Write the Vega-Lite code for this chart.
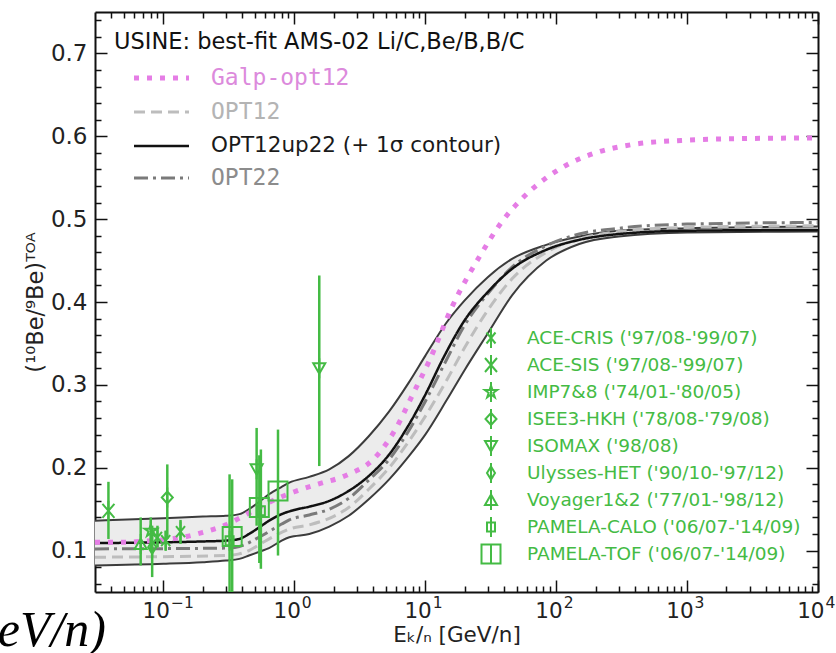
{
  "$schema": "https://vega.github.io/schema/vega-lite/v6.json",
  "width": 723,
  "height": 580,
  "autosize": "none",
  "padding": {"left": 95, "top": 12, "right": 18, "bottom": 61},
  "background": "white",
  "config": {"view": {"stroke": null}, "font": "DejaVu Sans"},
  "title": {"text": "eV/n)", "orient": "bottom", "anchor": "start", "align": "right", "frame": "group", "font": "Liberation Serif", "fontStyle": "italic", "fontWeight": "normal", "fontSize": 50, "color": "#000", "dx": 11, "offset": 0, "baseline": "alphabetic"},
  "datasets": {
    "band": [
      {"E": 0.03, "lo": 0.082, "hi": 0.136},
      {"E": 0.1, "lo": 0.084, "hi": 0.139},
      {"E": 0.2, "lo": 0.086, "hi": 0.141},
      {"E": 0.3, "lo": 0.088, "hi": 0.142},
      {"E": 0.38, "lo": 0.090, "hi": 0.144},
      {"E": 0.45, "lo": 0.094, "hi": 0.150},
      {"E": 0.55, "lo": 0.099, "hi": 0.160},
      {"E": 0.64, "lo": 0.103, "hi": 0.168},
      {"E": 0.8, "lo": 0.112, "hi": 0.177},
      {"E": 0.915, "lo": 0.116, "hi": 0.182},
      {"E": 1.3, "lo": 0.120, "hi": 0.189},
      {"E": 1.85, "lo": 0.129, "hi": 0.198},
      {"E": 2.6, "lo": 0.142, "hi": 0.214},
      {"E": 3.7, "lo": 0.162, "hi": 0.238},
      {"E": 5.3, "lo": 0.186, "hi": 0.268},
      {"E": 7.5, "lo": 0.214, "hi": 0.303},
      {"E": 10, "lo": 0.240, "hi": 0.335},
      {"E": 14.5, "lo": 0.281, "hi": 0.375},
      {"E": 20, "lo": 0.318, "hi": 0.402},
      {"E": 30, "lo": 0.362, "hi": 0.430},
      {"E": 46, "lo": 0.408, "hi": 0.452},
      {"E": 84, "lo": 0.450, "hi": 0.469},
      {"E": 150, "lo": 0.470, "hi": 0.479},
      {"E": 300, "lo": 0.479, "hi": 0.486},
      {"E": 1000, "lo": 0.484, "hi": 0.489},
      {"E": 10000, "lo": 0.485, "hi": 0.491}
    ],
    "curves": [
      {"series": "Galp-opt12", "E": 0.03, "v": 0.110},
      {"series": "Galp-opt12", "E": 0.05, "v": 0.110},
      {"series": "Galp-opt12", "E": 0.08, "v": 0.112},
      {"series": "Galp-opt12", "E": 0.1, "v": 0.113},
      {"series": "Galp-opt12", "E": 0.15, "v": 0.117},
      {"series": "Galp-opt12", "E": 0.2, "v": 0.122},
      {"series": "Galp-opt12", "E": 0.3, "v": 0.131},
      {"series": "Galp-opt12", "E": 0.4, "v": 0.141},
      {"series": "Galp-opt12", "E": 0.6, "v": 0.156},
      {"series": "Galp-opt12", "E": 0.8, "v": 0.165},
      {"series": "Galp-opt12", "E": 1.0, "v": 0.171},
      {"series": "Galp-opt12", "E": 1.5, "v": 0.180},
      {"series": "Galp-opt12", "E": 2.5, "v": 0.191},
      {"series": "Galp-opt12", "E": 4, "v": 0.210},
      {"series": "Galp-opt12", "E": 6, "v": 0.248},
      {"series": "Galp-opt12", "E": 8, "v": 0.288},
      {"series": "Galp-opt12", "E": 10.8, "v": 0.330},
      {"series": "Galp-opt12", "E": 16, "v": 0.394},
      {"series": "Galp-opt12", "E": 26, "v": 0.455},
      {"series": "Galp-opt12", "E": 39, "v": 0.498},
      {"series": "Galp-opt12", "E": 55, "v": 0.525},
      {"series": "Galp-opt12", "E": 81, "v": 0.548},
      {"series": "Galp-opt12", "E": 126, "v": 0.567},
      {"series": "Galp-opt12", "E": 200, "v": 0.580},
      {"series": "Galp-opt12", "E": 380, "v": 0.590},
      {"series": "Galp-opt12", "E": 900, "v": 0.595},
      {"series": "Galp-opt12", "E": 2200, "v": 0.597},
      {"series": "Galp-opt12", "E": 10000, "v": 0.598},
      {"series": "OPT12", "E": 0.03, "v": 0.092},
      {"series": "OPT12", "E": 0.3, "v": 0.094},
      {"series": "OPT12", "E": 0.38, "v": 0.096},
      {"series": "OPT12", "E": 0.45, "v": 0.100},
      {"series": "OPT12", "E": 0.55, "v": 0.108},
      {"series": "OPT12", "E": 0.8, "v": 0.122},
      {"series": "OPT12", "E": 0.915, "v": 0.126},
      {"series": "OPT12", "E": 1.3, "v": 0.131},
      {"series": "OPT12", "E": 1.85, "v": 0.139},
      {"series": "OPT12", "E": 2.6, "v": 0.152},
      {"series": "OPT12", "E": 3.7, "v": 0.174},
      {"series": "OPT12", "E": 5.3, "v": 0.200},
      {"series": "OPT12", "E": 7.5, "v": 0.232},
      {"series": "OPT12", "E": 10, "v": 0.262},
      {"series": "OPT12", "E": 14.5, "v": 0.305},
      {"series": "OPT12", "E": 20, "v": 0.345},
      {"series": "OPT12", "E": 30, "v": 0.390},
      {"series": "OPT12", "E": 46, "v": 0.428},
      {"series": "OPT12", "E": 84, "v": 0.460},
      {"series": "OPT12", "E": 150, "v": 0.476},
      {"series": "OPT12", "E": 300, "v": 0.485},
      {"series": "OPT12", "E": 1000, "v": 0.490},
      {"series": "OPT12", "E": 10000, "v": 0.492},
      {"series": "OPT12up22 (+ 1σ contour)", "E": 0.03, "v": 0.109},
      {"series": "OPT12up22 (+ 1σ contour)", "E": 0.1, "v": 0.110},
      {"series": "OPT12up22 (+ 1σ contour)", "E": 0.2, "v": 0.111},
      {"series": "OPT12up22 (+ 1σ contour)", "E": 0.3, "v": 0.112},
      {"series": "OPT12up22 (+ 1σ contour)", "E": 0.38, "v": 0.114},
      {"series": "OPT12up22 (+ 1σ contour)", "E": 0.45, "v": 0.120},
      {"series": "OPT12up22 (+ 1σ contour)", "E": 0.55, "v": 0.129},
      {"series": "OPT12up22 (+ 1σ contour)", "E": 0.64, "v": 0.136},
      {"series": "OPT12up22 (+ 1σ contour)", "E": 0.8, "v": 0.144},
      {"series": "OPT12up22 (+ 1σ contour)", "E": 1.0, "v": 0.149},
      {"series": "OPT12up22 (+ 1σ contour)", "E": 1.3, "v": 0.153},
      {"series": "OPT12up22 (+ 1σ contour)", "E": 1.85, "v": 0.160},
      {"series": "OPT12up22 (+ 1σ contour)", "E": 2.6, "v": 0.172},
      {"series": "OPT12up22 (+ 1σ contour)", "E": 3.7, "v": 0.190},
      {"series": "OPT12up22 (+ 1σ contour)", "E": 5.3, "v": 0.216},
      {"series": "OPT12up22 (+ 1σ contour)", "E": 7.5, "v": 0.252},
      {"series": "OPT12up22 (+ 1σ contour)", "E": 10, "v": 0.288},
      {"series": "OPT12up22 (+ 1σ contour)", "E": 14, "v": 0.335},
      {"series": "OPT12up22 (+ 1σ contour)", "E": 20, "v": 0.378},
      {"series": "OPT12up22 (+ 1σ contour)", "E": 30, "v": 0.412},
      {"series": "OPT12up22 (+ 1σ contour)", "E": 46, "v": 0.440},
      {"series": "OPT12up22 (+ 1σ contour)", "E": 84, "v": 0.463},
      {"series": "OPT12up22 (+ 1σ contour)", "E": 150, "v": 0.475},
      {"series": "OPT12up22 (+ 1σ contour)", "E": 300, "v": 0.482},
      {"series": "OPT12up22 (+ 1σ contour)", "E": 1000, "v": 0.486},
      {"series": "OPT12up22 (+ 1σ contour)", "E": 10000, "v": 0.487},
      {"series": "OPT22", "E": 0.03, "v": 0.102},
      {"series": "OPT22", "E": 0.3, "v": 0.103},
      {"series": "OPT22", "E": 0.38, "v": 0.105},
      {"series": "OPT22", "E": 0.55, "v": 0.117},
      {"series": "OPT22", "E": 0.8, "v": 0.132},
      {"series": "OPT22", "E": 0.915, "v": 0.137},
      {"series": "OPT22", "E": 1.3, "v": 0.143},
      {"series": "OPT22", "E": 1.85, "v": 0.150},
      {"series": "OPT22", "E": 2.6, "v": 0.163},
      {"series": "OPT22", "E": 3.7, "v": 0.185},
      {"series": "OPT22", "E": 5.3, "v": 0.210},
      {"series": "OPT22", "E": 7.5, "v": 0.245},
      {"series": "OPT22", "E": 10, "v": 0.280},
      {"series": "OPT22", "E": 14.5, "v": 0.330},
      {"series": "OPT22", "E": 20, "v": 0.372},
      {"series": "OPT22", "E": 30, "v": 0.410},
      {"series": "OPT22", "E": 46, "v": 0.442},
      {"series": "OPT22", "E": 84, "v": 0.468},
      {"series": "OPT22", "E": 150, "v": 0.482},
      {"series": "OPT22", "E": 300, "v": 0.489},
      {"series": "OPT22", "E": 1000, "v": 0.494},
      {"series": "OPT22", "E": 10000, "v": 0.496}
    ],
    "points": [
      {"exp": "ACE-SIS ('97/08-'99/07)", "E": 0.038, "v": 0.148, "lo": 0.114, "hi": 0.183},
      {"exp": "Voyager1&2 ('77/01-'98/12)", "E": 0.067, "v": 0.108, "lo": 0.082, "hi": 0.140},
      {"exp": "Ulysses-HET ('90/10-'97/12)", "E": 0.082, "v": 0.104, "lo": 0.068, "hi": 0.130},
      {"exp": "IMP7&8 ('74/01-'80/05)", "E": 0.08, "v": 0.124, "lo": 0.100, "hi": 0.140},
      {"exp": "ACE-CRIS ('97/08-'99/07)", "E": 0.09, "v": 0.116, "lo": 0.104, "hi": 0.130},
      {"exp": "ACE-CRIS ('97/08-'99/07)", "E": 0.104, "v": 0.112, "lo": 0.100, "hi": 0.124},
      {"exp": "ACE-CRIS ('97/08-'99/07)", "E": 0.135, "v": 0.123, "lo": 0.108, "hi": 0.137},
      {"exp": "ISEE3-HKH ('78/08-'79/08)", "E": 0.107, "v": 0.164, "lo": 0.114, "hi": 0.204},
      {"exp": "PAMELA-CALO ('06/07-'14/09)", "E": 0.32, "v": 0.112, "lo": 0.03, "hi": 0.192},
      {"exp": "PAMELA-TOF ('06/07-'14/09)", "E": 0.335, "v": 0.117, "lo": 0.03, "hi": 0.186},
      {"exp": "ISOMAX ('98/08)", "E": 0.515, "v": 0.198, "lo": 0.13, "hi": 0.248},
      {"exp": "PAMELA-CALO ('06/07-'14/09)", "E": 0.555, "v": 0.148, "lo": 0.078, "hi": 0.222},
      {"exp": "PAMELA-TOF ('06/07-'14/09)", "E": 0.54, "v": 0.152, "lo": 0.085, "hi": 0.215},
      {"exp": "PAMELA-TOF ('06/07-'14/09)", "E": 0.75, "v": 0.172, "lo": 0.094, "hi": 0.246},
      {"exp": "ISOMAX ('98/08)", "E": 1.55, "v": 0.320, "lo": 0.202, "hi": 0.432}
    ]
  },
  "layer": [
    {
      "data": {"name": "band"},
      "mark": {"type": "area", "color": "#ececec", "opacity": 1},
      "encoding": {
        "x": {"field": "E", "type": "quantitative",
          "scale": {"type": "log", "domain": [0.03, 10000], "nice": false},
          "axis": {"orient": "bottom", "values": [0.1, 1, 10, 100, 1000, 10000],
            "labelExpr": "'10'", "labelAlign": "right", "labelOffset": 6, "labelBaseline": "alphabetic",
            "tickSize": -12, "tickWidth": 1.5, "tickColor": "#111", "domainColor": "#111", "domainWidth": 2, "grid": false,
            "labelFont": "DejaVu Sans", "labelFontSize": 21.5, "labelColor": "#222", "labelPadding": 37,
            "labelOverlap": false, "labelFlush": false, "labelBound": false,
            "title": "Eₖ/ₙ [GeV/n]", "titleFont": "DejaVu Sans", "titleFontSize": 21.5, "titleFontWeight": "normal", "titleColor": "#222", "titlePadding": 3}},
        "y": {"field": "lo", "type": "quantitative",
          "scale": {"domain": [0.05, 0.75], "nice": false, "zero": false},
          "axis": {"orient": "left", "values": [0.1, 0.2, 0.3, 0.4, 0.5, 0.6, 0.7],
            "format": ".1f",
            "tickSize": -12, "tickWidth": 1.5, "tickColor": "#111", "domainColor": "#111", "domainWidth": 2, "grid": false,
            "labelFont": "DejaVu Sans", "labelFontSize": 23, "labelColor": "#222", "labelPadding": 20,
            "labelOverlap": false, "labelBound": false, "labelFlush": false,
            "title": "(¹⁰Be/⁹Be)ᵀᴼᴬ", "titleFont": "DejaVu Sans", "titleFontSize": 22.5, "titleFontWeight": "normal", "titleColor": "#222", "titlePadding": 3}},
        "y2": {"field": "hi"}
      }
    },
    {
      "data": {"name": "band"},
      "mark": {"type": "line", "color": "#3c3c3c", "strokeWidth": 2, "interpolate": "monotone"},
      "encoding": {
        "x": {"field": "E", "type": "quantitative",
          "axis": {"orient": "top", "values": [0.1, 1, 10, 100, 1000, 10000], "labels": false, "title": null,
            "tickSize": -12, "tickWidth": 1.5, "tickColor": "#111", "domainColor": "#111", "domainWidth": 2, "grid": false}},
        "y": {"field": "hi", "type": "quantitative",
          "axis": {"orient": "right", "values": [0.1, 0.2, 0.3, 0.4, 0.5, 0.6, 0.7], "labels": false, "title": null,
            "tickSize": -12, "tickWidth": 1.5, "tickColor": "#111", "domainColor": "#111", "domainWidth": 2, "grid": false}}
      }
    },
    {
      "data": {"name": "band"},
      "mark": {"type": "line", "color": "#3c3c3c", "strokeWidth": 2, "interpolate": "monotone"},
      "encoding": {
        "x": {"field": "E", "type": "quantitative",
          "axis": {"orient": "bottom",
            "values": [0.04,0.05,0.06,0.07,0.08,0.09,0.2,0.3,0.4,0.5,0.6,0.7,0.8,0.9,2,3,4,5,6,7,8,9,20,30,40,50,60,70,80,90,200,300,400,500,600,700,800,900,2000,3000,4000,5000,6000,7000,8000,9000],
            "labels": false, "title": null, "domain": false,
            "tickSize": -6, "tickWidth": 1.5, "tickColor": "#111", "grid": false}},
        "y": {"field": "lo", "type": "quantitative",
          "axis": {"orient": "left",
            "values": [0.06,0.08,0.12,0.14,0.16,0.18,0.22,0.24,0.26,0.28,0.32,0.34,0.36,0.38,0.42,0.44,0.46,0.48,0.52,0.54,0.56,0.58,0.62,0.64,0.66,0.68,0.72,0.74],
            "labels": false, "title": null, "domain": false,
            "tickSize": -6, "tickWidth": 1.5, "tickColor": "#111", "grid": false}}
      }
    },
    {
      "data": {"name": "curves"},
      "encoding": {
        "x": {"field": "E", "type": "quantitative", "axis": null},
        "y": {"field": "v", "type": "quantitative", "axis": null},
        "stroke": {"field": "series", "type": "nominal",
          "scale": {"domain": ["Galp-opt12", "OPT12", "OPT12up22 (+ 1σ contour)", "OPT22"], "range": ["#e57de5", "#bdbdbd", "#111111", "#7a7a7a"]},
          "legend": {"orient": "top-left", "offset": 19, "padding": 0,
            "title": "USINE: best-fit AMS-02 Li/C,Be/B,B/C", "titleFont": "DejaVu Sans", "titleFontSize": 22.5, "titleFontWeight": "normal", "titleColor": "#111", "titlePadding": 13, "titleLimit": 600,
            "symbolType": "M-2.75,0L2.75,0", "symbolSize": 400, "symbolOffset": 36, "symbolStrokeWidth": 3,
            "labelOffset": 38, "labelFontSize": 22, "labelLimit": 500, "rowPadding": 10,
            "encode": {
              "labels": {"update": {
                "fill": {"signal": "datum.value === 'Galp-opt12' ? '#dc8adc' : datum.value === 'OPT12' ? '#b4b4b4' : datum.value === 'OPT22' ? '#8c8c8c' : '#1a1a1a'"},
                "font": {"signal": "datum.value === 'OPT12up22 (+ 1σ contour)' ? 'DejaVu Sans' : 'DejaVu Sans Mono'"},
                "fontSize": {"signal": "datum.value === 'OPT12up22 (+ 1σ contour)' ? 21.5 : 23"}}},
              "symbols": {"update": {
                "strokeWidth": {"signal": "datum.value === 'Galp-opt12' ? 5 : datum.value === 'OPT12up22 (+ 1σ contour)' ? 2.5 : 3"}}}
            }}},
        "strokeDash": {"field": "series", "type": "nominal",
          "scale": {"domain": ["Galp-opt12", "OPT12", "OPT12up22 (+ 1σ contour)", "OPT22"], "range": [[5, 8], [11, 6], [1, 0], [14, 5, 3, 5]]}}
      },
      "layer": [
        {"transform": [{"filter": "datum.series === 'OPT12'"}], "mark": {"type": "line", "strokeWidth": 3, "interpolate": "monotone"}},
        {"transform": [{"filter": "datum.series === 'OPT22'"}], "mark": {"type": "line", "strokeWidth": 3, "interpolate": "monotone"}},
        {"transform": [{"filter": "datum.series === 'OPT12up22 (+ 1σ contour)'"}], "mark": {"type": "line", "strokeWidth": 2.5, "interpolate": "monotone"}},
        {"transform": [{"filter": "datum.series === 'Galp-opt12'"}], "mark": {"type": "line", "strokeWidth": 5, "strokeCap": "butt", "interpolate": "monotone"}}
      ]
    },
    {
      "data": {"name": "points"},
      "mark": {"type": "rule", "color": "#44bb44", "strokeWidth": 2.5, "clip": true},
      "encoding": {
        "x": {"field": "E", "type": "quantitative",
          "axis": {"orient": "top",
            "values": [0.04,0.05,0.06,0.07,0.08,0.09,0.2,0.3,0.4,0.5,0.6,0.7,0.8,0.9,2,3,4,5,6,7,8,9,20,30,40,50,60,70,80,90,200,300,400,500,600,700,800,900,2000,3000,4000,5000,6000,7000,8000,9000],
            "labels": false, "title": null, "domain": false,
            "tickSize": -6, "tickWidth": 1.5, "tickColor": "#111", "grid": false}},
        "y": {"field": "lo", "type": "quantitative",
          "axis": {"orient": "right",
            "values": [0.06,0.08,0.12,0.14,0.16,0.18,0.22,0.24,0.26,0.28,0.32,0.34,0.36,0.38,0.42,0.44,0.46,0.48,0.52,0.54,0.56,0.58,0.62,0.64,0.66,0.68,0.72,0.74],
            "labels": false, "title": null, "domain": false,
            "tickSize": -6, "tickWidth": 1.5, "tickColor": "#111", "grid": false}},
        "y2": {"field": "hi"}
      }
    },
    {
      "data": {"name": "points"},
      "mark": {"type": "point", "filled": false, "color": "#44bb44", "strokeWidth": 2, "size": 400, "opacity": 1},
      "encoding": {
        "x": {"field": "E", "type": "quantitative",
          "axis": {"orient": "bottom", "values": [0.1, 1, 10, 100, 1000, 10000],
            "labelExpr": "datum.value == 0.1 ? '−1' : datum.value == 1 ? '0' : datum.value == 10 ? '1' : datum.value == 100 ? '2' : datum.value == 1000 ? '3' : '4'",
            "labelAlign": "left", "labelOffset": 7, "labelBaseline": "alphabetic",
            "ticks": false, "tickSize": 0, "domain": false, "grid": false, "title": null,
            "labelFont": "DejaVu Sans", "labelFontSize": 15.5, "labelColor": "#222", "labelPadding": 15,
            "labelOverlap": false, "labelFlush": false, "labelBound": false}},
        "y": {"field": "v", "type": "quantitative", "axis": null},
        "shape": {"field": "exp", "type": "nominal",
          "scale": {
            "domain": ["ACE-CRIS ('97/08-'99/07)", "ACE-SIS ('97/08-'99/07)", "IMP7&8 ('74/01-'80/05)", "ISEE3-HKH ('78/08-'79/08)", "ISOMAX ('98/08)", "Ulysses-HET ('90/10-'97/12)", "Voyager1&2 ('77/01-'98/12)", "PAMELA-CALO ('06/07-'14/09)", "PAMELA-TOF ('06/07-'14/09)"],
            "range": [
              "M0,-1L0,1M-0.45,-0.55L0.45,0.55M-0.45,0.55L0.45,-0.55",
              "M-0.6,-0.7L0.6,0.7M-0.6,0.7L0.6,-0.7M0,-1L0,1",
              "M0,-0.65L0.146,-0.2L0.618,-0.2L0.236,0.077L0.382,0.526L0,0.248L-0.382,0.526L-0.236,0.077L-0.618,-0.2L-0.146,-0.2ZM0,-1L0,1",
              "M0,-0.6L0.55,0L0,0.6L-0.55,0ZM0,-1L0,1",
              "M-0.6,-0.5L0.6,-0.5L0,0.55ZM0,-1L0,1",
              "M0,-0.65L0.4,0L0,0.65L-0.4,0ZM0,-1L0,1",
              "M0,-0.55L0.6,0.5L-0.6,0.5ZM0,-1L0,1",
              "M-0.4,-0.45L0.4,-0.45L0.4,0.45L-0.4,0.45ZM0,-1L0,1",
              "M-0.95,-0.95L0.95,-0.95L0.95,0.95L-0.95,0.95ZM0,-1L0,1"
            ]},
          "legend": {"orient": "none", "legendX": 385, "legendY": 315, "padding": 0, "title": null,
            "symbolSize": 400, "symbolStrokeWidth": 2, "symbolStrokeColor": "#44bb44", "symbolFillColor": "transparent",
            "labelFont": "DejaVu Sans", "labelFontSize": 18.5, "labelColor": "#44bb44", "labelOffset": 25, "labelLimit": 500, "rowPadding": -1}}
      }
    }
  ],
  "resolve": {"axis": {"x": "independent", "y": "independent"}}
}
